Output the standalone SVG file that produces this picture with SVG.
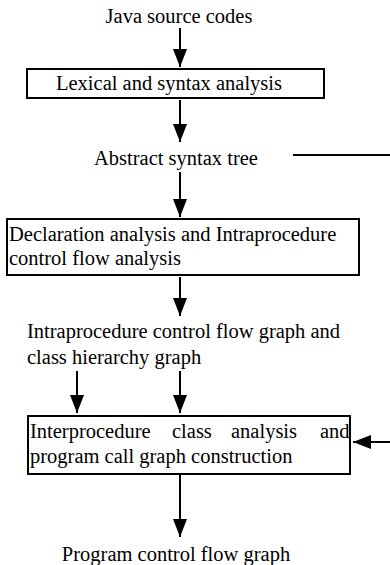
<svg xmlns="http://www.w3.org/2000/svg" width="390" height="565" viewBox="0 0 390 565">
<defs>
<marker id="ah" markerUnits="userSpaceOnUse" markerWidth="18" markerHeight="14" refX="18" refY="7" orient="auto">
<path d="M0,0 L18,7 L0,14 z" fill="#000"/>
</marker>
<style>
text{font-family:"Liberation Serif","Times New Roman",serif;font-size:20.5px;fill:#000}
.box{fill:#fff;stroke:#000;stroke-width:2}
.c{stroke:#000;stroke-width:2;fill:none}
</style>
</defs>
<rect width="390" height="565" fill="#fff"/>
<g id="connectors">
<line class="c" x1="180" y1="28" x2="180" y2="67" marker-end="url(#ah)"/>
<line class="c" x1="180" y1="100" x2="180" y2="142" marker-end="url(#ah)"/>
<line class="c" x1="293" y1="155" x2="390" y2="155"/>
<line class="c" x1="180" y1="172" x2="180" y2="217" marker-end="url(#ah)"/>
<line class="c" x1="180" y1="277" x2="180" y2="316" marker-end="url(#ah)"/>
<line class="c" x1="77" y1="371" x2="77" y2="413" marker-end="url(#ah)"/>
<line class="c" x1="180" y1="371" x2="180" y2="413" marker-end="url(#ah)"/>
<line class="c" x1="390" y1="442" x2="353" y2="442" marker-end="url(#ah)"/>
<line class="c" x1="180" y1="475" x2="180" y2="537" marker-end="url(#ah)"/>
</g>
<g id="java">
<text x="179" y="23" text-anchor="middle">Java source codes</text>
</g>
<g id="lexical">
<rect class="box" x="27" y="69" width="297" height="29"/>
<text x="169" y="90" text-anchor="middle">Lexical and syntax analysis</text>
</g>
<g id="ast">
<text x="176" y="165" text-anchor="middle">Abstract syntax tree</text>
</g>
<g id="declaration">
<rect class="box" x="7" y="219" width="352" height="56"/>
<text x="9" y="241">Declaration analysis and Intraprocedure</text>
<text x="9" y="265">control flow analysis</text>
</g>
<g id="intragraph">
<text x="27" y="338">Intraprocedure control flow graph and</text>
<text x="27" y="364">class hierarchy graph</text>
</g>
<g id="interprocedure">
<rect class="box" x="28" y="416" width="322" height="58"/>
<text y="438"><tspan x="30">Interprocedure</tspan><tspan x="172">class</tspan><tspan x="231">analysis</tspan><tspan x="320">and</tspan></text>
<text x="30" y="463">program call graph construction</text>
</g>
<g id="pcfg">
<text x="176" y="561" text-anchor="middle">Program control flow graph</text>
</g>
</svg>
